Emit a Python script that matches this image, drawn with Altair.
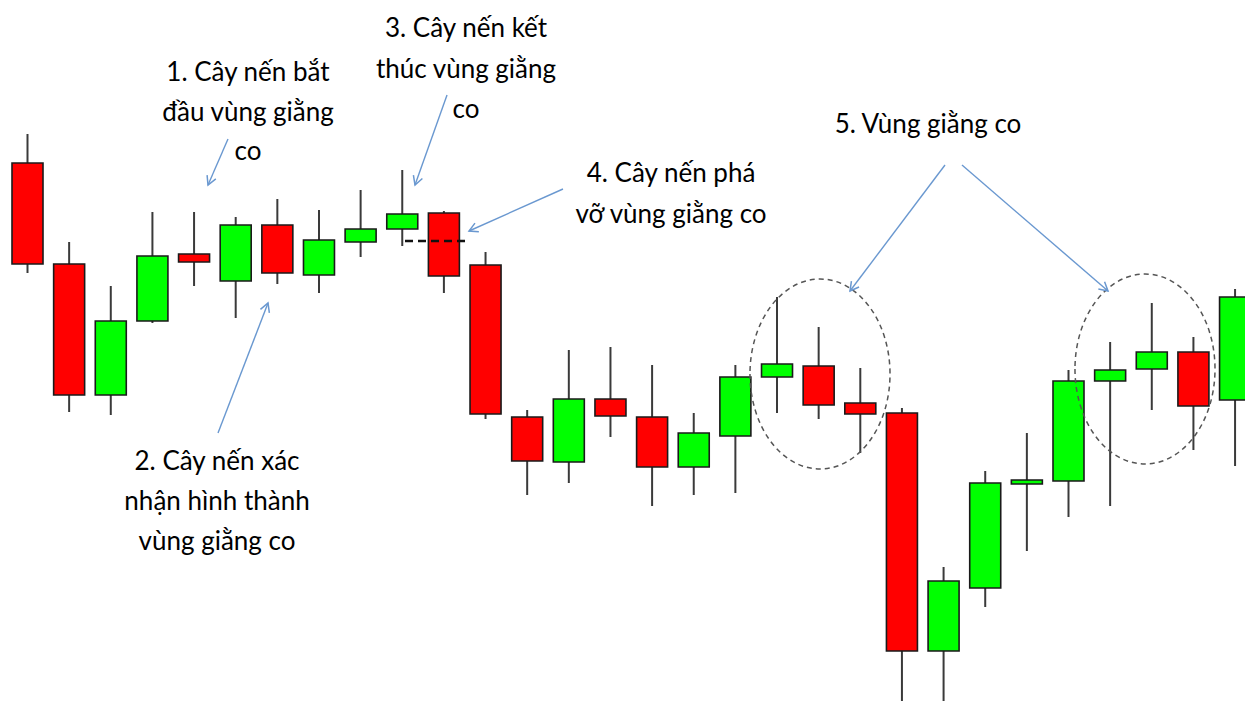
import math
import altair as alt
import pandas as pd

# ---------------- data ----------------
idx = list(range(1, 31))
opens = [55.4, 45.3, 32.2, 39.6, 46.3, 43.6, 49.2, 44.2, 47.5, 48.8,
         50.4, 45.2, 30.0, 25.5, 31.8, 30.0, 25.0, 28.1, 34.0, 35.1,
         31.4, 30.4, 6.6, 12.9, 23.3, 23.6, 33.6, 34.8, 36.5, 31.7]
closes = [45.3, 32.2, 39.6, 46.1, 45.5, 49.2, 44.4, 47.7, 48.8, 50.3,
          44.1, 30.3, 25.6, 31.8, 30.1, 25.0, 28.4, 34.0, 35.3, 31.2,
          30.3, 6.6, 13.6, 23.4, 23.7, 33.6, 34.7, 36.5, 31.1, 42.0]
highs = [58.3, 47.5, 43.1, 50.5, 50.5, 50.0, 51.8, 50.7, 52.7, 54.7,
         50.6, 46.5, 30.7, 36.7, 37.0, 35.2, 30.4, 35.2, 42.0, 39.0,
         34.9, 30.9, 15.0, 24.6, 28.4, 34.7, 37.5, 41.4, 38.0, 42.8]
lows = [44.4, 30.5, 30.2, 39.4, 43.1, 39.9, 43.3, 42.4, 46.0, 47.1,
        42.4, 29.8, 22.2, 23.4, 28.0, 21.1, 22.2, 22.4, 30.4, 29.8,
        26.4, 1.2, -0.5, 11.0, 16.6, 20.0, 21.1, 30.7, 26.7, 25.1]

label_lines = ["1. Cây nến bắt", "đầu vùng giằng", "co",
               "3. Cây nến kết", "thúc vùng giằng", "co",
               "4. Cây nến phá", "vỡ vùng giằng co",
               "5. Vùng giằng co",
               "2. Cây nến xác", "nhận hình thành", "vùng giằng co"]
label_x = [6.295, 6.295, 6.295, 11.531, 11.531, 11.531, 16.454, 16.454,
           22.626, 5.551, 5.551, 5.551]
label_y = [63.6, 59.6, 55.7, 68.0, 63.9, 59.9, 53.5, 49.4, 58.4, 24.7, 20.7, 16.7]

arrow_x0 = [5.815, 5.575, 11.075, 13.860, 23.034, 23.442]
arrow_y0 = [57.8, 28.4, 62.2, 52.8, 55.2, 55.2]
arrow_x1 = [5.335, 6.776, 10.306, 11.603, 20.753, 26.949]
arrow_y1 = [53.2, 41.4, 53.2, 48.6, 42.6, 42.6]

zone_x = [20.032, 27.837]
zone_y = [34.3, 34.8]

break_x0 = [10.066]
break_x1 = [11.531]
break_y = [47.6]

# ---------------- layout ----------------
W, H = 1237, 693
PX_PER_IDX = 41.64
PX_PER_PRICE = 10.0
x_dom = [1 + (8 - 27.5) / PX_PER_IDX, 1 + (8 + W - 27.5) / PX_PER_IDX]
y_dom = [(709 - H) / PX_PER_PRICE, 70.9]
xs = alt.Scale(domain=x_dom, nice=False, zero=False, padding=0)
ys = alt.Scale(domain=y_dom, nice=False, zero=False, padding=0)

candles = pd.DataFrame({"i": idx, "open": opens, "close": closes,
                        "high": highs, "low": lows})
candles["dir"] = ["up" if c >= o else "down" for o, c in zip(opens, closes)]

labels = pd.DataFrame({"x": label_x, "y": label_y, "t": label_lines})

angles = []
for a, b, c, d in zip(arrow_x0, arrow_y0, arrow_x1, arrow_y1):
    dx = (c - a) * PX_PER_IDX
    dy = -(d - b) * PX_PER_PRICE
    angles.append(math.degrees(math.atan2(-dx, dy)) % 360)
arrows = pd.DataFrame({"x0": arrow_x0, "y0": arrow_y0, "x1": arrow_x1,
                       "y1": arrow_y1, "ang": angles})
zones = pd.DataFrame({"x": zone_x, "y": zone_y})
brk = pd.DataFrame({"x0": break_x0, "x1": break_x1, "y": break_y})

X = lambda f: alt.X(f, type="quantitative", scale=xs, axis=None)
Y = lambda f: alt.Y(f, type="quantitative", scale=ys, axis=None)

wicks = alt.Chart(candles).mark_rule(color="#3a3a3a", strokeWidth=2, clip=True).encode(
    x=X("i"), y=Y("low"), y2="high")
bodies = alt.Chart(candles).mark_bar(size=31, stroke="#1a1a1a", strokeWidth=1.6, clip=True).encode(
    x=X("i"), y=Y("open"), y2="close",
    color=alt.Color("dir:N", scale=alt.Scale(domain=["up", "down"], range=["#00FF00", "#FF0000"]),
                    legend=None))
brk_line = alt.Chart(brk).mark_rule(color="#111", strokeWidth=2.5, strokeDash=[8, 5]).encode(
    x=X("x0"), x2="x1", y=Y("y"))
ellipse_path = "M -0.737 0 A 0.737 1 0 1 0 0.737 0 A 0.737 1 0 1 0 -0.737 0 Z"
ellipses = alt.Chart(zones).mark_point(shape=ellipse_path, size=36100, filled=False,
                                       stroke="#555555", strokeWidth=1.5, strokeDash=[5, 4],
                                       opacity=1).encode(x=X("x"), y=Y("y"))
arrow_color = "#6A98D0"
arrow_lines = alt.Chart(arrows).mark_rule(color=arrow_color, strokeWidth=1.4).encode(
    x=X("x0"), y=Y("y0"), x2="x1", y2="y1")
heads = alt.Chart(arrows).mark_point(shape="M -0.55 -1 L 0 0 L 0.55 -1", size=300, filled=False,
                                     stroke=arrow_color, strokeWidth=1.5, opacity=1).encode(
    x=X("x1"), y=Y("y1"), angle=alt.Angle("ang:Q", scale=None))
texts = alt.Chart(labels).mark_text(font="Lato", fontSize=26, align="center",
                                    baseline="alphabetic", color="#000").encode(
    x=X("x"), y=Y("y"), text="t:N")

chart = alt.layer(wicks, bodies, brk_line, ellipses, arrow_lines, heads, texts).properties(
    width=W, height=H, padding=0, autosize=alt.AutoSizeParams(type="none")
).configure_view(stroke=None)

chart.save("out.html", embed_options={"renderer": "svg", "actions": False})
